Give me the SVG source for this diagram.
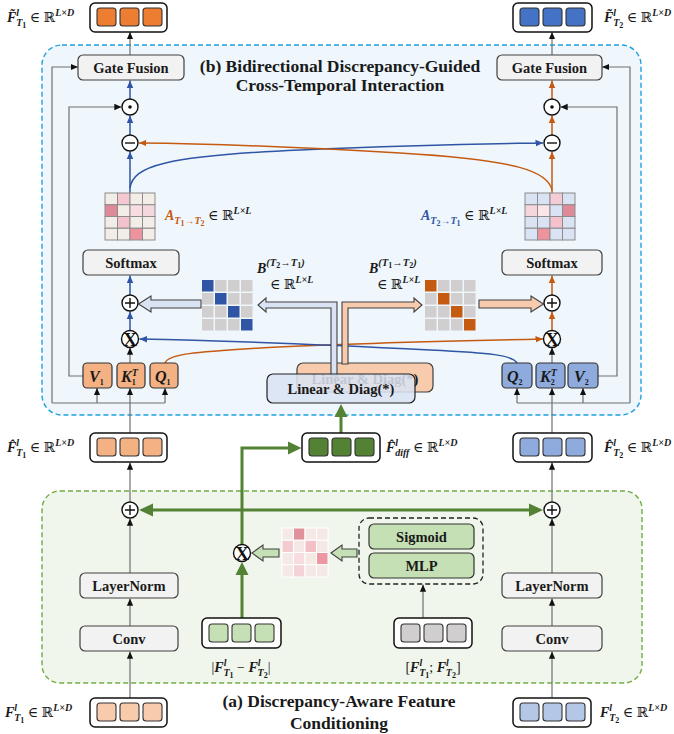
<svg xmlns="http://www.w3.org/2000/svg" width="674" height="734" viewBox="0 0 674 734">
<style>
.box{fill:#F2F2F2;stroke:#404040;stroke-width:1.2}
.t{font-family:"Liberation Serif","DejaVu Serif",serif;font-weight:bold;font-size:14.5px;fill:#1a1a1a;text-anchor:middle}
.title{font-family:"Liberation Serif","DejaVu Serif",serif;font-weight:bold;font-size:17.5px;fill:#1a1a1a;text-anchor:middle}
.m{font-family:"Liberation Serif","DejaVu Serif",serif;font-weight:bold;font-style:italic;font-size:14px;fill:#1a1a1a}
.mv{font-size:16px}
.n{font-style:normal;font-weight:normal}
.sp{font-size:10px}
.sb{font-size:8px;font-style:normal}
.ln{stroke:#707070;stroke-width:1.2;fill:none}
.lb{stroke:#2F55A4;stroke-width:1.5;fill:none}
.lo{stroke:#C55A11;stroke-width:1.5;fill:none}
.lg{stroke:#548235;stroke-width:3;fill:none}
.op{fill:#fff;stroke:#111;stroke-width:1.4}
.ops{stroke:#111;stroke-width:1.4;fill:none}
.ox{font-family:"Liberation Serif","DejaVu Serif",serif;font-weight:bold;font-size:19px;fill:#111;text-anchor:middle}
.ob{fill:#fff;stroke:#111;stroke-width:1.5}
.sq{stroke:#333;stroke-width:1.1}
.mg{stroke:#8c8c8c;stroke-width:1}
.vk{stroke:#333;stroke-width:1.2}
.ha{stroke:#404040;stroke-width:1.1}
</style>
<defs>
<marker id="ak" viewBox="0 0 8 8" refX="8" refY="4" markerWidth="6" markerHeight="6" orient="auto"><path d="M0,0.5 L8,4 L0,7.5z" fill="#111"/></marker>
<marker id="ab" viewBox="0 0 8 8" refX="8" refY="4" markerWidth="5" markerHeight="5" orient="auto"><path d="M0,0.5 L8,4 L0,7.5z" fill="#2F55A4"/></marker>
<marker id="ao" viewBox="0 0 8 8" refX="8" refY="4" markerWidth="5" markerHeight="5" orient="auto"><path d="M0,0.5 L8,4 L0,7.5z" fill="#C55A11"/></marker>
</defs>

<!-- panels -->
<g id="panel-b">
<rect x="42" y="45" width="599" height="370" rx="20" fill="#EFF7FD" stroke="#1FA0E0" stroke-width="1.4" stroke-dasharray="5,3"/>
<text class="title" x="340" y="72">(b) Bidirectional Discrepancy-Guided</text>
<text class="title" x="340" y="91">Cross-Temporal Interaction</text>
</g>
<g id="panel-a">
<rect x="42" y="491" width="600" height="192" rx="18" fill="#F1F6EC" stroke="#70AD47" stroke-width="1.4" stroke-dasharray="5,3"/>
<text class="title" x="339" y="707">(a) Discrepancy-Aware Feature</text>
<text class="title" x="339" y="729">Conditioning</text>
</g>

<!-- back Linear & Diag -->
<g id="linear-diag-back">
<rect x="297" y="363" width="136" height="29" rx="6" fill="#F8CBAD" stroke="#404040" stroke-width="1.2"/>
<text class="t" x="365" y="384" fill="#666">Linear &amp; Diag(*)</text>
</g>

<g id="connectors">
<path class="ln" d="M130,55 L130,32" marker-end="url(#ak)"/>
<path class="ln" d="M552,55 L552,32" marker-end="url(#ak)"/>
<path class="lb" d="M130,99 L130,80.5" marker-end="url(#ab)"/>
<path class="lb" d="M130,135 L130,115.5" marker-end="url(#ab)"/>
<path class="lb" d="M130,193 L130,151.5" marker-end="url(#ab)"/>
<path class="lb" d="M130,295 L130,275.5" marker-end="url(#ab)"/>
<path class="lb" d="M130,330.5 L130,311.5" marker-end="url(#ab)"/>
<path class="lo" d="M552,99 L552,80.5" marker-end="url(#ao)"/>
<path class="lo" d="M552,135 L552,115.5" marker-end="url(#ao)"/>
<path class="lo" d="M552,193 L552,151.5" marker-end="url(#ao)"/>
<path class="lo" d="M552,295 L552,275.5" marker-end="url(#ao)"/>
<path class="lo" d="M552,330.5 L552,311.5" marker-end="url(#ao)"/>
<path class="lb" d="M130,188 C133,166 165,156 300,150 S480,144 543,143" marker-end="url(#ab)"/>
<path class="lo" d="M552,190 C548,172 520,160 400,153 S200,143.5 139,143" marker-end="url(#ao)"/>
<path class="lo" d="M165,363 C168,354 195,352 260,348 S450,341 543,339" marker-end="url(#ao)"/>
<path class="lb" d="M517,363 C513,355 490,353 430,350 S250,341 139.5,339" marker-end="url(#ab)"/>
<path class="ln" d="M130,363 L130,347.5" marker-end="url(#ak)"/>
<path class="ln" d="M552,363 L552,347.5" marker-end="url(#ak)"/>
<path class="ln" d="M130,433 L130,403 M52,403 L165,403"/>
<path class="ln" d="M97,403 L97,388" marker-end="url(#ak)"/>
<path class="ln" d="M130,403 L130,388" marker-end="url(#ak)"/>
<path class="ln" d="M165,403 L165,388" marker-end="url(#ak)"/>
<path class="ln" d="M52,403 L52,67 L78,67" marker-end="url(#ak)"/>
<path class="ln" d="M83,376 L69,376 L69,107 L121.5,107" marker-end="url(#ak)"/>
<path class="ln" d="M552,433 L552,403 M517,403 L630,403"/>
<path class="ln" d="M517,403 L517,388" marker-end="url(#ak)"/>
<path class="ln" d="M552,403 L552,388" marker-end="url(#ak)"/>
<path class="ln" d="M583,403 L583,388" marker-end="url(#ak)"/>
<path class="ln" d="M630,403 L630,67 L602,67" marker-end="url(#ak)"/>
<path class="ln" d="M598,376 L617,376 L617,107 L560.5,107" marker-end="url(#ak)"/>
<polygon class="ha" fill="#DAE3F3" points="138.5,304 151,296 151,300 201,300 201,308 151,308 151,312"/>
<polygon class="ha" fill="#F8CBAD" points="479,300 531,300 531,296 543.5,304 531,312 531,308 479,308"/>
<polygon class="ha" fill="#F8CBAD" points="342,364 342,302 414,302 414,298 422,305 414,312 414,308 348,308 348,364"/>
<polygon class="ha" fill="#DAE3F3" points="337,376 337,302 266,302 266,298 258,305 266,312 266,308 331,308 331,376"/>
<path class="ln" d="M130,698 L130,651.5" marker-end="url(#ak)"/>
<path class="ln" d="M130,626 L130,598.5" marker-end="url(#ak)"/>
<path class="ln" d="M130,573 L130,518.5" marker-end="url(#ak)"/>
<path class="ln" d="M130,502 L130,462.5" marker-end="url(#ak)"/>
<path class="ln" d="M552,698 L552,651.5" marker-end="url(#ak)"/>
<path class="ln" d="M552,626 L552,598.5" marker-end="url(#ak)"/>
<path class="ln" d="M552,573 L552,518.5" marker-end="url(#ak)"/>
<path class="ln" d="M552,502 L552,462.5" marker-end="url(#ak)"/>
<path class="ln" d="M423,618 L423,584.5" marker-end="url(#ak)"/>
<path class="lg" d="M153,510 L530,510"/>
<polygon fill="#548235" points="139,510 153,503.5 153,516.5"/>
<polygon fill="#548235" points="543,510 529,503.5 529,516.5"/>
<path class="lg" d="M242,545 L242,448 L289,448"/>
<polygon fill="#548235" points="301.5,448 288,441.5 288,454.5"/>
<path class="lg" d="M242,618 L242,574"/>
<polygon fill="#548235" points="242,562 235.5,575 248.5,575"/>
<path class="lg" d="M341,433 L341,416"/>
<polygon fill="#548235" points="341,404 334.5,417 347.5,417"/>
<polygon class="ha" stroke="#222" fill="#C5E0B4" points="252,553 263,545 263,549 279,549 279,557 263,557 263,561"/>
<polygon class="ha" stroke="#222" fill="#C5E0B4" points="331,553 342,545 342,549 357,549 357,557 342,557 342,561"/>
</g>

<!-- front Linear & Diag -->
<g id="linear-diag-front">
<rect x="267" y="374" width="148" height="29" rx="6" fill="#DAE3F3" fill-opacity="0.86" stroke="#222" stroke-width="1.2"/>
<text class="t" x="341" y="394">Linear &amp; Diag(*)</text>
</g>

<g id="out-t1">
<rect class="ob" x="90" y="3" width="77" height="29" rx="5"/>
<rect class="sq" x="97" y="8" width="19" height="18" rx="3" fill="#ED7D31"/>
<rect class="sq" x="120" y="8" width="19" height="18" rx="3" fill="#ED7D31"/>
<rect class="sq" x="143" y="8" width="19" height="18" rx="3" fill="#ED7D31"/>
<text class="m" x="7" y="22">F̃<tspan class="sp" dy="-6">l</tspan><tspan class="sp" dx="-3" dy="10">T</tspan><tspan class="sb" dy="2">1</tspan><tspan class="n" dy="-6"> ∈ ℝ</tspan><tspan class="sp" dy="-6">L×D</tspan></text>
</g>
<g id="out-t2">
<rect class="ob" x="513" y="3" width="79" height="29" rx="5"/>
<rect class="sq" x="520" y="8" width="19" height="18" rx="3" fill="#4472C4"/>
<rect class="sq" x="543" y="8" width="19" height="18" rx="3" fill="#4472C4"/>
<rect class="sq" x="566" y="8" width="19" height="18" rx="3" fill="#4472C4"/>
<text class="m" x="604" y="22">F̃<tspan class="sp" dy="-6">l</tspan><tspan class="sp" dx="-3" dy="10">T</tspan><tspan class="sb" dy="2">2</tspan><tspan class="n" dy="-6"> ∈ ℝ</tspan><tspan class="sp" dy="-6">L×D</tspan></text>
</g>

<g id="gate-left"><rect class="box" x="78" y="55" width="106" height="25" rx="5"/><text class="t" x="131" y="72.5">Gate Fusion</text></g>
<g id="gate-right"><rect class="box" x="497" y="55" width="105" height="25" rx="5"/><text class="t" x="549.5" y="72.5">Gate Fusion</text></g>

<g id="odot-left"><circle class="op" cx="130" cy="107" r="8"/><circle cx="130" cy="107" r="1.8" fill="#111"/></g>
<g id="odot-right"><circle class="op" cx="552" cy="107" r="8"/><circle cx="552" cy="107" r="1.8" fill="#111"/></g>
<g id="minus-left"><circle class="op" cx="130" cy="143" r="8"/><path class="ops" d="M125,143 L135,143"/></g>
<g id="minus-right"><circle class="op" cx="552" cy="143" r="8"/><path class="ops" d="M547,143 L557,143"/></g>
<g id="plus-left"><circle class="op" cx="130" cy="303" r="8"/><path class="ops" d="M125,303 L135,303 M130,298 L130,308"/></g>
<g id="plus-right"><circle class="op" cx="552" cy="303" r="8"/><path class="ops" d="M547,303 L557,303 M552,298 L552,308"/></g>
<g id="otimes-left"><circle class="op" cx="130" cy="339" r="8.5"/><text class="ox" x="130" y="345.5">X</text></g>
<g id="otimes-right"><circle class="op" cx="552" cy="339" r="8.5"/><text class="ox" x="552" y="345.5">X</text></g>

<g id="attn-left">
<rect x="105" y="193" width="12.5" height="11.75" fill="#F2EDE6" class="mg"/>
<rect x="117.5" y="193" width="12.5" height="11.75" fill="#F4C7D2" class="mg"/>
<rect x="130" y="193" width="12.5" height="11.75" fill="#F2EDE6" class="mg"/>
<rect x="142.5" y="193" width="12.5" height="11.75" fill="#F2EDE6" class="mg"/>
<rect x="105" y="204.75" width="12.5" height="11.75" fill="#DE8A98" class="mg"/>
<rect x="117.5" y="204.75" width="12.5" height="11.75" fill="#F2EDE6" class="mg"/>
<rect x="130" y="204.75" width="12.5" height="11.75" fill="#F8DCE2" class="mg"/>
<rect x="142.5" y="204.75" width="12.5" height="11.75" fill="#F4D8DD" class="mg"/>
<rect x="105" y="216.5" width="12.5" height="11.75" fill="#F2EDE6" class="mg"/>
<rect x="117.5" y="216.5" width="12.5" height="11.75" fill="#F4C2CC" class="mg"/>
<rect x="130" y="216.5" width="12.5" height="11.75" fill="#F2EDE6" class="mg"/>
<rect x="142.5" y="216.5" width="12.5" height="11.75" fill="#F2EDE6" class="mg"/>
<rect x="105" y="228.25" width="12.5" height="11.75" fill="#F2EDE6" class="mg"/>
<rect x="117.5" y="228.25" width="12.5" height="11.75" fill="#F2EDE6" class="mg"/>
<rect x="130" y="228.25" width="12.5" height="11.75" fill="#EE939E" class="mg"/>
<rect x="142.5" y="228.25" width="12.5" height="11.75" fill="#F2EDE6" class="mg"/>
<text class="m" x="165" y="220" font-size="15"><tspan fill="#C55A11">A<tspan class="sp" dy="4">T</tspan><tspan class="sb" dy="2">1</tspan><tspan class="sp" dy="-2">→T</tspan><tspan class="sb" dy="2">2</tspan></tspan><tspan class="n" dy="-6"> ∈ ℝ</tspan><tspan class="sp" dy="-6">L×L</tspan></text>
</g>
<g id="attn-right">
<rect x="525" y="193" width="12.5" height="11.75" fill="#DAE3F3" class="mg"/>
<rect x="537.5" y="193" width="12.5" height="11.75" fill="#DAE3F3" class="mg"/>
<rect x="550" y="193" width="12.5" height="11.75" fill="#F4CCD5" class="mg"/>
<rect x="562.5" y="193" width="12.5" height="11.75" fill="#DAE3F3" class="mg"/>
<rect x="525" y="204.75" width="12.5" height="11.75" fill="#F4D6DC" class="mg"/>
<rect x="537.5" y="204.75" width="12.5" height="11.75" fill="#FBE5E8" class="mg"/>
<rect x="550" y="204.75" width="12.5" height="11.75" fill="#DAE3F3" class="mg"/>
<rect x="562.5" y="204.75" width="12.5" height="11.75" fill="#DE8A98" class="mg"/>
<rect x="525" y="216.5" width="12.5" height="11.75" fill="#DAE3F3" class="mg"/>
<rect x="537.5" y="216.5" width="12.5" height="11.75" fill="#DAE3F3" class="mg"/>
<rect x="550" y="216.5" width="12.5" height="11.75" fill="#F4C2CC" class="mg"/>
<rect x="562.5" y="216.5" width="12.5" height="11.75" fill="#DAE3F3" class="mg"/>
<rect x="525" y="228.25" width="12.5" height="11.75" fill="#DAE3F3" class="mg"/>
<rect x="537.5" y="228.25" width="12.5" height="11.75" fill="#EE939E" class="mg"/>
<rect x="550" y="228.25" width="12.5" height="11.75" fill="#DAE3F3" class="mg"/>
<rect x="562.5" y="228.25" width="12.5" height="11.75" fill="#DAE3F3" class="mg"/>
<text class="m" x="421" y="220" font-size="15"><tspan fill="#2F55A4">A<tspan class="sp" dy="4">T</tspan><tspan class="sb" dy="2">2</tspan><tspan class="sp" dy="-2">→T</tspan><tspan class="sb" dy="2">1</tspan></tspan><tspan class="n" dy="-6"> ∈ ℝ</tspan><tspan class="sp" dy="-6">L×L</tspan></text>
</g>

<g id="softmax-left"><rect class="box" x="83" y="250" width="96" height="25" rx="5"/><text class="t" x="131" y="267.5" font-size="15">Softmax</text></g>
<g id="softmax-right"><rect class="box" x="502" y="250" width="100" height="25" rx="5"/><text class="t" x="552" y="267.5" font-size="15">Softmax</text></g>

<g id="b-left">
<g fill="#D0CECE">
<rect x="202" y="280" width="11.5" height="11.5" fill="#2F55A4"/><rect x="215" y="280" width="11.5" height="11.5"/><rect x="228" y="280" width="11.5" height="11.5"/><rect x="241" y="280" width="11.5" height="11.5"/>
<rect x="202" y="293" width="11.5" height="11.5"/><rect x="215" y="293" width="11.5" height="11.5" fill="#2F55A4"/><rect x="228" y="293" width="11.5" height="11.5"/><rect x="241" y="293" width="11.5" height="11.5"/>
<rect x="202" y="306" width="11.5" height="11.5"/><rect x="215" y="306" width="11.5" height="11.5"/><rect x="228" y="306" width="11.5" height="11.5" fill="#2F55A4"/><rect x="241" y="306" width="11.5" height="11.5"/>
<rect x="202" y="319" width="11.5" height="11.5"/><rect x="215" y="319" width="11.5" height="11.5"/><rect x="228" y="319" width="11.5" height="11.5"/><rect x="241" y="319" width="11.5" height="11.5" fill="#2F55A4"/>
</g>
<text class="m" x="257" y="273" font-size="15" fill="#2F55A4">B<tspan font-size="10.5" dy="-7">(T</tspan><tspan class="sb" dy="2">2</tspan><tspan font-size="10.5" dy="-2">→T</tspan><tspan class="sb" dy="2">1</tspan><tspan font-size="10.5" dy="-2">)</tspan></text>
<text class="m" x="270" y="289"><tspan class="n">∈ ℝ</tspan><tspan class="sp" dy="-6">L×L</tspan></text>
</g>
<g id="b-right">
<g fill="#D0CECE">
<rect x="425" y="280" width="11.5" height="11.5" fill="#C55A11"/><rect x="438" y="280" width="11.5" height="11.5"/><rect x="451" y="280" width="11.5" height="11.5"/><rect x="464" y="280" width="11.5" height="11.5"/>
<rect x="425" y="293" width="11.5" height="11.5"/><rect x="438" y="293" width="11.5" height="11.5" fill="#C55A11"/><rect x="451" y="293" width="11.5" height="11.5"/><rect x="464" y="293" width="11.5" height="11.5"/>
<rect x="425" y="306" width="11.5" height="11.5"/><rect x="438" y="306" width="11.5" height="11.5"/><rect x="451" y="306" width="11.5" height="11.5" fill="#C55A11"/><rect x="464" y="306" width="11.5" height="11.5"/>
<rect x="425" y="319" width="11.5" height="11.5"/><rect x="438" y="319" width="11.5" height="11.5"/><rect x="451" y="319" width="11.5" height="11.5"/><rect x="464" y="319" width="11.5" height="11.5" fill="#C55A11"/>
</g>
<text class="m" x="369" y="273" font-size="15" fill="#C55A11">B<tspan font-size="10.5" dy="-7">(T</tspan><tspan class="sb" dy="2">1</tspan><tspan font-size="10.5" dy="-2">→T</tspan><tspan class="sb" dy="2">2</tspan><tspan font-size="10.5" dy="-2">)</tspan></text>
<text class="m" x="377" y="289"><tspan class="n">∈ ℝ</tspan><tspan class="sp" dy="-6">L×L</tspan></text>
</g>

<g id="v1"><rect class="vk" x="83" y="363" width="29" height="25" rx="4" fill="#F4B183"/><text class="m mv" x="89" y="381.5">V<tspan class="sb" font-size="10" dy="3">1</tspan></text></g>
<g id="k1"><rect class="vk" x="117" y="363" width="28" height="25" rx="4" fill="#F4B183"/><text class="m mv" x="121" y="381.5">K<tspan class="sp" dy="-6">T</tspan><tspan class="sb" font-size="10" dx="-6" dy="9">1</tspan></text></g>
<g id="q1"><rect class="vk" x="150" y="363" width="28" height="25" rx="4" fill="#F4B183"/><text class="m mv" x="155" y="381.5">Q<tspan class="sb" font-size="10" dy="3">1</tspan></text></g>
<g id="q2"><rect class="vk" x="502" y="363" width="30" height="25" rx="4" fill="#8FAADC"/><text class="m mv" x="507" y="381.5">Q<tspan class="sb" font-size="10" dy="3">2</tspan></text></g>
<g id="k2"><rect class="vk" x="536" y="363" width="29" height="25" rx="4" fill="#8FAADC"/><text class="m mv" x="540" y="381.5">K<tspan class="sp" dy="-6">T</tspan><tspan class="sb" font-size="10" dx="-6" dy="9">2</tspan></text></g>
<g id="v2"><rect class="vk" x="568" y="363" width="30" height="25" rx="4" fill="#8FAADC"/><text class="m mv" x="574" y="381.5">V<tspan class="sb" font-size="10" dy="3">2</tspan></text></g>

<g id="fhat-t1">
<rect class="ob" x="90" y="433" width="77" height="29" rx="5"/>
<rect class="sq" x="97" y="438" width="19" height="18" rx="3" fill="#F4B183"/>
<rect class="sq" x="120" y="438" width="19" height="18" rx="3" fill="#F4B183"/>
<rect class="sq" x="143" y="438" width="19" height="18" rx="3" fill="#F4B183"/>
<text class="m" x="7" y="452">F̂<tspan class="sp" dy="-6">l</tspan><tspan class="sp" dx="-3" dy="10">T</tspan><tspan class="sb" dy="2">1</tspan><tspan class="n" dy="-6"> ∈ ℝ</tspan><tspan class="sp" dy="-6">L×D</tspan></text>
</g>
<g id="fhat-diff">
<rect class="ob" x="302" y="433" width="78" height="29" rx="5"/>
<rect class="sq" x="309" y="438" width="19" height="18" rx="3" fill="#548235"/>
<rect class="sq" x="332" y="438" width="19" height="18" rx="3" fill="#548235"/>
<rect class="sq" x="355" y="438" width="19" height="18" rx="3" fill="#548235"/>
<text class="m" x="386" y="452">F̂<tspan class="sp" dy="-6">l</tspan><tspan class="sp" dx="-3" dy="10">diff</tspan><tspan class="n" dy="-4"> ∈ ℝ</tspan><tspan class="sp" dy="-6">L×D</tspan></text>
</g>
<g id="fhat-t2">
<rect class="ob" x="513" y="433" width="79" height="29" rx="5"/>
<rect class="sq" x="520" y="438" width="19" height="18" rx="3" fill="#8FAADC"/>
<rect class="sq" x="543" y="438" width="19" height="18" rx="3" fill="#8FAADC"/>
<rect class="sq" x="566" y="438" width="19" height="18" rx="3" fill="#8FAADC"/>
<text class="m" x="604" y="452">F̂<tspan class="sp" dy="-6">l</tspan><tspan class="sp" dx="-3" dy="10">T</tspan><tspan class="sb" dy="2">2</tspan><tspan class="n" dy="-6"> ∈ ℝ</tspan><tspan class="sp" dy="-6">L×D</tspan></text>
</g>

<g id="plus-a-left"><circle class="op" cx="130" cy="510" r="8"/><path class="ops" d="M125,510 L135,510 M130,505 L130,515"/></g>
<g id="plus-a-right"><circle class="op" cx="552" cy="510" r="8"/><path class="ops" d="M547,510 L557,510 M552,505 L552,515"/></g>
<g id="otimes-a"><circle class="op" cx="242" cy="553" r="8.5"/><text class="ox" x="242" y="559.5">X</text></g>
<g id="weight-matrix" stroke="#fff" stroke-width="1">
<rect x="282" y="528" width="11.5" height="12.25" fill="#F5E9E6"/><rect x="293.5" y="528" width="11.5" height="12.25" fill="#E0909A"/><rect x="305" y="528" width="11.5" height="12.25" fill="#F5E9E6"/><rect x="316.5" y="528" width="11.5" height="12.25" fill="#F5E9E6"/>
<rect x="282" y="540.25" width="11.5" height="12.25" fill="#F4CBD0"/><rect x="293.5" y="540.25" width="11.5" height="12.25" fill="#F5E9E6"/><rect x="305" y="540.25" width="11.5" height="12.25" fill="#F4C0C8"/><rect x="316.5" y="540.25" width="11.5" height="12.25" fill="#F5E9E6"/>
<rect x="282" y="552.5" width="11.5" height="12.25" fill="#F5E9E6"/><rect x="293.5" y="552.5" width="11.5" height="12.25" fill="#F8DDE0"/><rect x="305" y="552.5" width="11.5" height="12.25" fill="#F5E9E6"/><rect x="316.5" y="552.5" width="11.5" height="12.25" fill="#EE97A3"/>
<rect x="282" y="564.75" width="11.5" height="12.25" fill="#F5E9E6"/><rect x="293.5" y="564.75" width="11.5" height="12.25" fill="#F4D2D6"/><rect x="305" y="564.75" width="11.5" height="12.25" fill="#F5E9E6"/><rect x="316.5" y="564.75" width="11.5" height="12.25" fill="#F5E9E6"/>
</g>
<g id="gate-mlp">
<rect x="359" y="518" width="124" height="66" rx="10" fill="none" stroke="#222" stroke-width="1.3" stroke-dasharray="5,3"/>
<rect x="369" y="524" width="105" height="25" rx="5" fill="#C5E0B4" stroke="#333" stroke-width="1.2"/>
<text class="t" x="421.5" y="541.5">Sigmoid</text>
<rect x="369" y="553" width="105" height="25" rx="5" fill="#C5E0B4" stroke="#333" stroke-width="1.2"/>
<text class="t" x="421.5" y="570.5">MLP</text>
</g>
<g id="layernorm-left"><rect class="box" x="80" y="573" width="98" height="25" rx="5"/><text class="t" x="129" y="590.5">LayerNorm</text></g>
<g id="layernorm-right"><rect class="box" x="502" y="573" width="100" height="25" rx="5"/><text class="t" x="552" y="590.5">LayerNorm</text></g>
<g id="conv-left"><rect class="box" x="80" y="626" width="98" height="25" rx="5"/><text class="t" x="129" y="643.5">Conv</text></g>
<g id="conv-right"><rect class="box" x="502" y="626" width="100" height="25" rx="5"/><text class="t" x="552" y="643.5">Conv</text></g>
<g id="absdiff">
<rect class="ob" x="202" y="618" width="79" height="30" rx="5"/>
<rect class="sq" x="209" y="624" width="19" height="18" rx="3" fill="#C5E0B4"/>
<rect class="sq" x="232" y="624" width="19" height="18" rx="3" fill="#C5E0B4"/>
<rect class="sq" x="255" y="624" width="19" height="18" rx="3" fill="#C5E0B4"/>
<text class="m" x="241" y="672" text-anchor="middle"><tspan class="n">|</tspan>F<tspan class="sp" dy="-6">l</tspan><tspan class="sp" dx="-3" dy="10">T</tspan><tspan class="sb" dy="2">1</tspan><tspan class="n" dy="-6"> − </tspan>F<tspan class="sp" dy="-6">l</tspan><tspan class="sp" dx="-3" dy="10">T</tspan><tspan class="sb" dy="2">2</tspan><tspan class="n" dy="-6">|</tspan></text>
</g>
<g id="concat">
<rect class="ob" x="394" y="618" width="78" height="30" rx="5"/>
<rect class="sq" x="401" y="624" width="19" height="18" rx="3" fill="#D0CECE"/>
<rect class="sq" x="424" y="624" width="19" height="18" rx="3" fill="#D0CECE"/>
<rect class="sq" x="447" y="624" width="19" height="18" rx="3" fill="#D0CECE"/>
<text class="m" x="433" y="672" text-anchor="middle"><tspan class="n">[</tspan>F<tspan class="sp" dy="-6">l</tspan><tspan class="sp" dx="-3" dy="10">T</tspan><tspan class="sb" dy="2">1</tspan><tspan class="n" dy="-6">; </tspan>F<tspan class="sp" dy="-6">l</tspan><tspan class="sp" dx="-3" dy="10">T</tspan><tspan class="sb" dy="2">2</tspan><tspan class="n" dy="-6">]</tspan></text>
</g>
<g id="in-t1">
<rect class="ob" x="90" y="698" width="77" height="29" rx="5"/>
<rect class="sq" x="97" y="703" width="19" height="18" rx="3" fill="#F8CBAD"/>
<rect class="sq" x="120" y="703" width="19" height="18" rx="3" fill="#F8CBAD"/>
<rect class="sq" x="143" y="703" width="19" height="18" rx="3" fill="#F8CBAD"/>
<text class="m" x="5" y="717">F<tspan class="sp" dy="-6">l</tspan><tspan class="sp" dx="-3" dy="10">T</tspan><tspan class="sb" dy="2">1</tspan><tspan class="n" dy="-6"> ∈ ℝ</tspan><tspan class="sp" dy="-6">L×D</tspan></text>
</g>
<g id="in-t2">
<rect class="ob" x="513" y="698" width="78" height="29" rx="5"/>
<rect class="sq" x="520" y="703" width="19" height="18" rx="3" fill="#B4C7E7"/>
<rect class="sq" x="543" y="703" width="19" height="18" rx="3" fill="#B4C7E7"/>
<rect class="sq" x="566" y="703" width="19" height="18" rx="3" fill="#B4C7E7"/>
<text class="m" x="600" y="717">F<tspan class="sp" dy="-6">l</tspan><tspan class="sp" dx="-3" dy="10">T</tspan><tspan class="sb" dy="2">2</tspan><tspan class="n" dy="-6"> ∈ ℝ</tspan><tspan class="sp" dy="-6">L×D</tspan></text>
</g>
</svg>
